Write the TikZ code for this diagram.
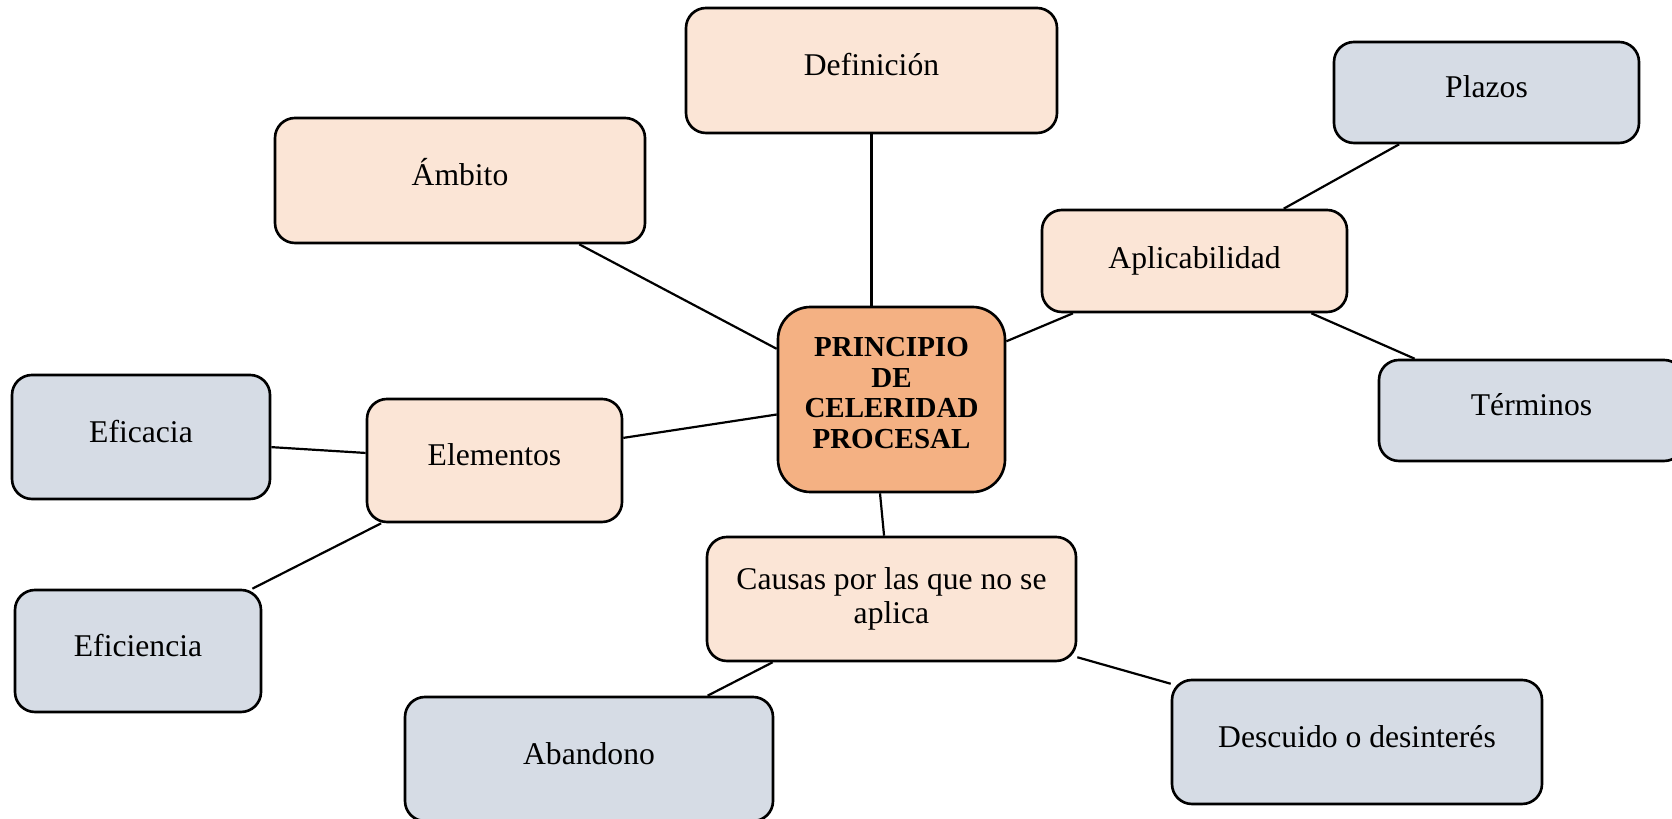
\documentclass[tikz,border=0pt]{standalone}
\usepackage{fontspec}
\setmainfont{Liberation Serif}
\usetikzlibrary{calc}
\definecolor{peachfill}{HTML}{FBE5D6}
\definecolor{corefill}{HTML}{F4B183}
\definecolor{slatefill}{HTML}{D6DCE5}
\begin{document}
\begin{tikzpicture}[
  basebox/.style={draw=black,line width=1.5pt,rounded corners=0.4cm,align=center,
    font=\fontsize{18}{19.5}\selectfont,inner sep=2pt},
  corebox/.style={basebox,fill=corefill,rounded corners=0.65cm,text depth=0.26cm,
    font=\fontsize{16.5}{17.4}\selectfont\bfseries},
  topicbox/.style={basebox,fill=peachfill},
  leafbox/.style={basebox,fill=slatefill},
  lift/.style={text height=0.5cm,text depth=0.28cm},
  link/.style={draw=black,line width=1.25pt}
  ]
  \useasboundingbox (0,0) rectangle (33.44,-16.38);
  \node[corebox,minimum width=4.54cm,minimum height=3.70cm] (cel) at (17.83,-7.99) {PRINCIPIO\\DE\\CELERIDAD\\PROCESAL};
  \node[topicbox,lift,minimum width=7.42cm,minimum height=2.50cm] (def) at (17.43,-1.41) {Definición};
  \node[topicbox,lift,minimum width=7.40cm,minimum height=2.50cm] (amb) at (9.20,-3.61) {Ámbito};
  \node[topicbox,minimum width=6.10cm,minimum height=2.04cm] (apl) at (23.89,-5.22) {Aplicabilidad};
  \node[topicbox,lift,minimum width=5.10cm,minimum height=2.46cm] (ele) at (9.89,-9.21) {Elementos};
  \node[topicbox,minimum width=7.38cm,minimum height=2.48cm] (cau) at (17.83,-11.98) {Causas por las que no se\\aplica};
  \node[leafbox,lift,minimum width=6.10cm,minimum height=2.02cm] (plz) at (29.73,-1.85) {Plazos};
  \node[leafbox,lift,minimum width=6.10cm,minimum height=2.02cm] (ter) at (30.63,-8.21) {Términos};
  \node[leafbox,lift,minimum width=5.16cm,minimum height=2.48cm] (efa) at (2.82,-8.74) {Eficacia};
  \node[leafbox,lift,minimum width=4.92cm,minimum height=2.44cm] (efi) at (2.76,-13.02) {Eficiencia};
  \node[leafbox,lift,minimum width=7.36cm,minimum height=2.48cm] (aba) at (11.78,-15.18) {Abandono};
  \node[leafbox,lift,minimum width=7.40cm,minimum height=2.48cm] (des) at (27.14,-14.84) {Descuido o desinterés};
  \draw[link] (def.south) -- (def.south |- cel.north);
  \draw[link] ($(amb.south west)!0.82!(amb.south east)$) -- ($(cel.north west)!0.23!(cel.south west)$);
  \draw[link] ($(cel.north east)!0.19!(cel.south east)$) -- ($(apl.south west)!0.105!(apl.south east)$);
  \draw[link] ($(apl.north west)!0.79!(apl.north east)$) -- ($(plz.south west)!0.216!(plz.south east)$);
  \draw[link] ($(apl.south west)!0.88!(apl.south east)$) -- ($(ter.north west)!0.12!(ter.north east)$);
  \draw[link] ($(cel.north west)!0.58!(cel.south west)$) -- ($(ele.north east)!0.32!(ele.south east)$);
  \draw[link] ($(ele.north west)!0.44!(ele.south west)$) -- ($(efa.north east)!0.58!(efa.south east)$);
  \draw[link] ($(ele.south west)!0.06!(ele.south east)$) -- ($(efi.north west)!0.96!(efi.north east)$);
  \draw[link] ($(cel.south west)!0.45!(cel.south east)$) -- ($(cau.north west)!0.48!(cau.north east)$);
  \draw[link] ($(cau.south west)!0.18!(cau.south east)$) -- ($(aba.north west)!0.82!(aba.north east)$);
  \draw[link] ($(cau.north east)!0.96!(cau.south east)$) -- ($(des.north west)!0.04!(des.south west)$);
\end{tikzpicture}
\end{document}
